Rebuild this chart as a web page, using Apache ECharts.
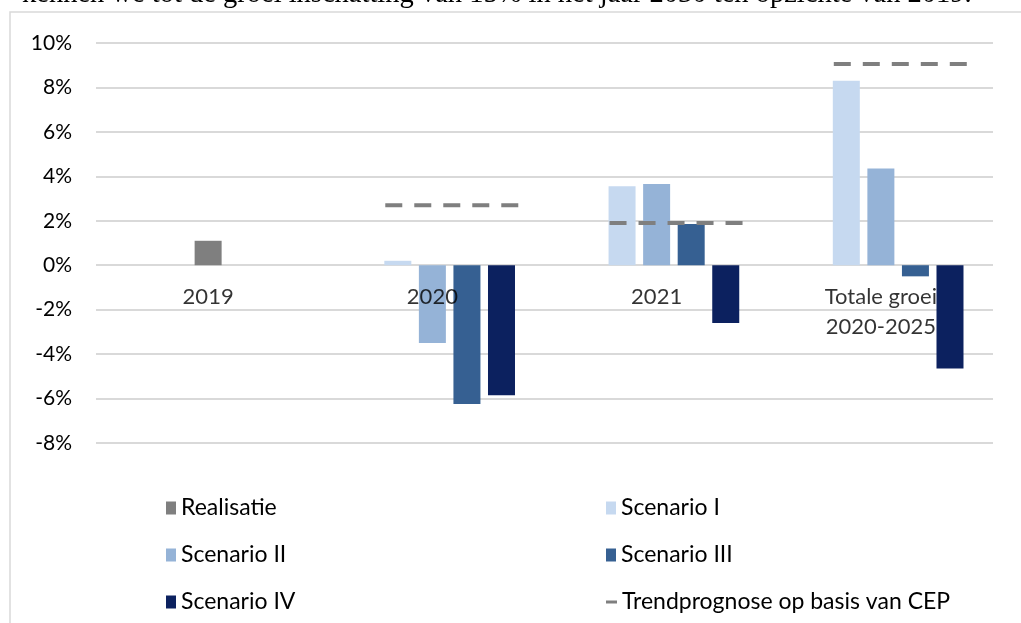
<!DOCTYPE html>
<html>
<head>
<meta charset="utf-8">
<script src="https://cdn.jsdelivr.net/npm/echarts@6/dist/echarts.min.js"></script>
<style>
  html, body { margin: 0; padding: 0; background: #fff; }
  #chart { width: 1021px; height: 623px; }
</style>
</head>
<body>
<div id="chart"></div>
<script>
// categories
const categories = ['2019', '2020', '2021', 'Totale groei\n2020-2025'];
// series values (%)
const realisatie = [1.1, null, null, null];
const scenarioI = [null, 0.2, 3.55, 8.3];
const scenarioII = [null, -3.5, 3.65, 4.35];
const scenarioIII = [null, -6.25, 1.85, -0.5];
const scenarioIV = [null, -5.85, -2.6, -4.65];
const trend = [null, 2.7, 1.9, 9.05];
// y ticks
const yMin = -8, yMax = 10, yStep = 2;

const font = 'Lato, "Open Sans", sans-serif';
const chart = echarts.init(document.getElementById('chart'));

const barCommon = {
  type: 'bar',
  barWidth: 27,
  barGap: '28%',
};

const legendText = { fontFamily: font, fontSize: 23, color: '#000', lineHeight: 24 };

const options = {
  animation: false,
  textStyle: { fontFamily: font },
  graphic: [
    // chart border like the pasted Excel frame
    {
      type: 'rect',
      shape: { x: 10, y: 12, width: 1100, height: 700 },
      style: { fill: 'none', stroke: '#d9d9d9', lineWidth: 1.5 },
      silent: true,
    },
    // cut-off line of text above the chart
    {
      type: 'text',
      left: 22,
      top: -20,
      style: {
        text: 'kennen we tot de groei inschatting van 15% in het jaar 2030 ten opzichte van 2019.',
        font: '28.5px "Liberation Serif", "DejaVu Serif", serif',
        fill: '#000',
      },
      silent: true,
    },
  ],
  grid: { left: 96, right: 28, top: 43, bottom: 180 },
  legend: [
    {
      orient: 'vertical',
      left: 161,
      top: 491,
      icon: 'rect',
      itemWidth: 10,
      itemHeight: 13,
      itemGap: 23,
      data: ['Realisatie', 'Scenario II', 'Scenario IV'],
      textStyle: legendText,
    },
    {
      orient: 'vertical',
      left: 601,
      top: 491,
      icon: 'rect',
      itemWidth: 10,
      itemHeight: 13,
      itemGap: 23,
      data: ['Scenario I', 'Scenario III'],
      textStyle: legendText,
    },
    {
      orient: 'vertical',
      left: 601,
      top: 585,
      icon: 'rect',
      itemWidth: 11,
      itemHeight: 3,
      data: ['Trendprognose op basis van CEP'],
      textStyle: legendText,
    },
  ],
  xAxis: [
    {
      type: 'category',
      data: categories,
      position: 'bottom',
      axisLine: { show: false },
      axisTick: { show: false },
      axisLabel: { show: false }, // labels are drawn at the 0% line by the label series below
    },
    {
      // Realisatie sits on its own axis so it is centered in its category
      type: 'category',
      data: categories,
      position: 'top',
      show: false,
      axisLine: { onZero: false },
    },
  ],
  yAxis: {
    type: 'value',
    min: yMin,
    max: yMax,
    interval: yStep,
    axisLine: { show: false },
    axisTick: { show: false },
    splitLine: { lineStyle: { color: '#d9d9d9', width: 2 } },
    axisLabel: {
      margin: 24,
      fontSize: 21,
      color: '#000',
      fontFamily: font,
      formatter: '{value}%',
    },
  },
  series: [
    // empty slot (Excel group leaves room for the Realisatie series)
    Object.assign({ name: '_slot', data: [null, null, null, null], xAxisIndex: 0 }, barCommon),
    Object.assign({ name: 'Scenario I', data: scenarioI, itemStyle: { color: '#c6d9f0' } }, barCommon),
    Object.assign({ name: 'Scenario II', data: scenarioII, itemStyle: { color: '#95b3d7' } }, barCommon),
    Object.assign({ name: 'Scenario III', data: scenarioIII, itemStyle: { color: '#366092' } }, barCommon),
    Object.assign({ name: 'Scenario IV', data: scenarioIV, itemStyle: { color: '#0c215f' } }, barCommon),
    Object.assign({ name: 'Realisatie', data: realisatie, xAxisIndex: 1, itemStyle: { color: '#7f7f7f' } }, barCommon),
    {
      name: 'Trendprognose op basis van CEP',
      type: 'custom',
      xAxisIndex: 0,
      itemStyle: { color: '#7f7f7f' },
      encode: { x: 0, y: 1 },
      data: trend.map((v, i) => [i, v]),
      z: 5,
      renderItem: function (params, api) {
        const v = api.value(1);
        if (v == null || isNaN(v)) {
          return;
        }
        const c = api.coord([api.value(0), v]);
        const w = api.size([1, 0])[0];
        return {
          type: 'line',
          shape: { x1: c[0] - w * 0.21, y1: c[1], x2: c[0] + w * 0.385, y2: c[1] },
          style: { stroke: '#7f7f7f', lineWidth: 4, lineDash: [17, 12] },
        };
      },
    },
    // category labels hanging under the 0% line (like Excel's axis at zero)
    {
      name: '_labels',
      type: 'scatter',
      xAxisIndex: 0,
      z: 10,
      symbolSize: 1,
      itemStyle: { color: 'rgba(0,0,0,0)' },
      silent: true,
      data: categories.map((c, i) => [i, 0]),
      label: {
        show: true,
        position: 'bottom',
        distance: 16,
        formatter: (p) => categories[p.dataIndex],
        fontSize: 22,
        lineHeight: 30,
        color: '#000',
        fontFamily: font,
      },
    },
  ],
};

chart.setOption(options);
</script>
</body>
</html>
